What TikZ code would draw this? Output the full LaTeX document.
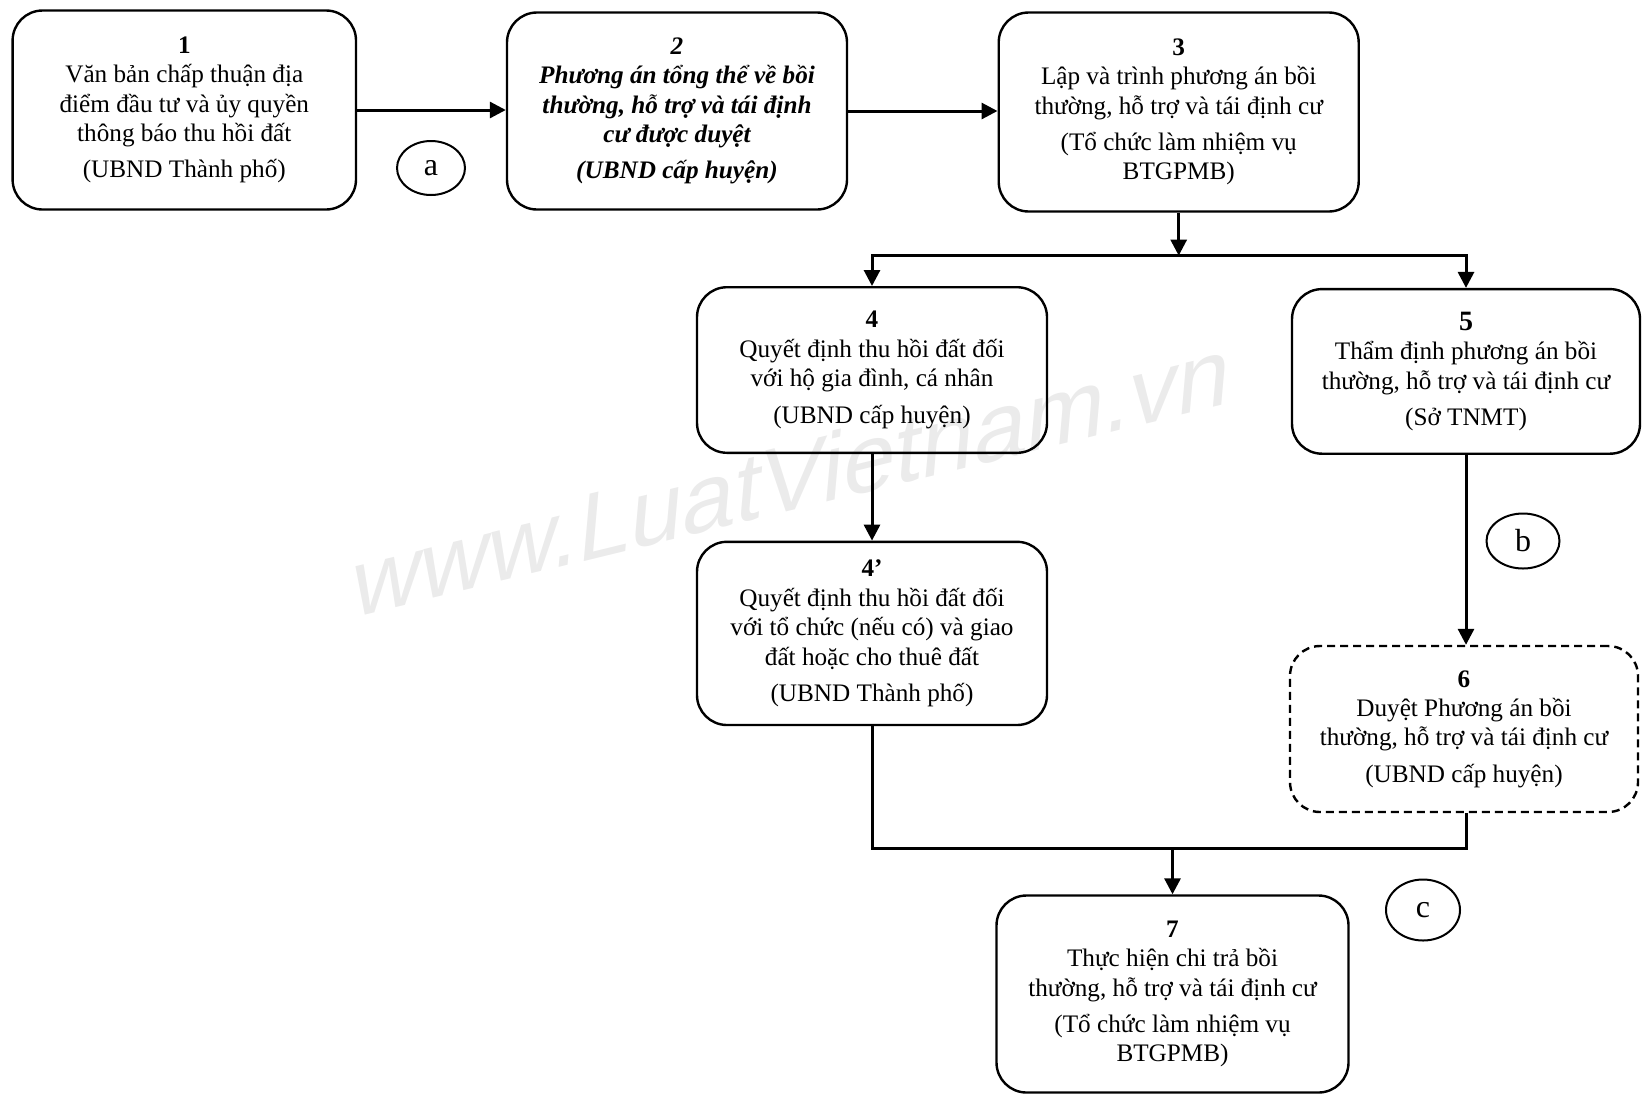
\documentclass[tikz,border=0pt]{standalone}
\usepackage{fontspec}
\setmainfont{Liberation Serif}
\newfontfamily\marksans{Liberation Sans}
\usetikzlibrary{arrows.meta,shapes.geometric}
\begin{document}
\begin{tikzpicture}[x=0.5pt,y=-0.5pt,
  stepbox/.style={draw, line width=1.2pt, rounded corners=15pt, align=center,
    inner sep=0pt, font=\fontsize{12.6pt}{14.7pt}\selectfont},
  flow/.style={line width=1.5pt, -{Triangle[length=8pt,width=8pt]}},
  link/.style={line width=1.5pt},
  tag/.style={draw, ellipse, line width=1pt, inner sep=0pt,
    font=\fontsize{16pt}{16pt}\selectfont}]
\useasboundingbox (0,0) rectangle (1643,1099);

% background watermark
\begin{scope}[shift={(793,476)}, yslant=0.244, xslant=0.09, xscale=0.98]
  \node[transform shape, text=black!8, inner sep=0pt,
        font=\marksans\fontsize{48pt}{48pt}\selectfont] (wm) at (0,0) {www.LuatVietnam.vn};
\end{scope}

% steps
\node[stepbox, minimum width=171.7pt, minimum height=99.5pt] (s1) at (184.3,110)
  {\textbf{1}\\ Văn bản chấp thuận địa\\ điểm đầu tư và ủy quyền\\ thông báo thu hồi đất\\[3.5pt] (UBND Thành phố)};
\node[stepbox, minimum width=170pt, minimum height=98.5pt,
      font=\fontsize{12.6pt}{14.7pt}\selectfont\bfseries\itshape] (s2) at (677,111)
  {2\\ Phương án tổng thể về bồi\\ thường, hỗ trợ và tái định\\ cư được duyệt\\[3.5pt] (UBND cấp huyện)};
\node[stepbox, minimum width=180pt, minimum height=99.5pt] (s3) at (1178.7,112)
  {\textbf{3}\\ Lập và trình phương án bồi\\ thường, hỗ trợ và tái định cư\\[3.5pt] (Tổ chức làm nhiệm vụ\\ BTGPMB)};
\node[stepbox, minimum width=175pt, minimum height=82.8pt] (s4) at (872,370)
  {\textbf{4}\\ Quyết định thu hồi đất đối\\ với hộ gia đình, cá nhân\\[3.5pt] (UBND cấp huyện)};
\node[stepbox, minimum width=174pt, minimum height=82.3pt] (s5) at (1466,371.4)
  {{\fontsize{14pt}{14pt}\selectfont\textbf{5}}\\ Thẩm định phương án bồi\\ thường, hỗ trợ và tái định cư\\[3.5pt] (Sở TNMT)};
\node[stepbox, minimum width=175pt, minimum height=91.6pt] (s4p) at (872,633.4)
  {\textbf{4’}\\ Quyết định thu hồi đất đối\\ với tổ chức (nếu có) và giao\\ đất hoặc cho thuê đất\\[3.5pt] (UBND Thành phố)};
\node[stepbox, dashed, dash pattern=on 4pt off 2.5pt, minimum width=174pt, minimum height=83pt] (s6) at (1464,729)
  {\textbf{6}\\ Duyệt Phương án bồi\\ thường, hỗ trợ và tái định cư\\[3.5pt] (UBND cấp huyện)};
\node[stepbox, minimum width=176pt, minimum height=98.5pt] (s7) at (1172.5,994)
  {\textbf{7}\\ Thực hiện chi trả bồi\\ thường, hỗ trợ và tái định cư\\[3.5pt] (Tổ chức làm nhiệm vụ\\ BTGPMB)};

% stage markers
\node[tag, minimum width=34pt, minimum height=27pt] (ta) at (431,168) {a};
\node[tag, minimum width=36.5pt, minimum height=27.5pt] (tb) at (1523,541) {b};
\node[tag, minimum width=37pt, minimum height=30.5pt] (tc) at (1423,910) {c};

% connectors
\coordinate (fork) at (0,255.6);
\coordinate (merge) at (0,848.7);
\draw[flow] (s1.east) -- (s1.east -| s2.west);
\draw[flow] (s2.east) -- (s2.east -| s3.west);
\draw[flow] (s3.south) -- (s3.south |- fork);
\draw[flow] (s3.south |- fork) -| (s4.north);
\draw[flow] (s3.south |- fork) -| (s5.north);
\draw[flow] (s4.south) -- (s4p.north);
\draw[flow] (s5.south) -- (s5.south |- s6.north);
\draw[link] (s4p.south) |- (s5.south |- merge) -- (s5.south |- s6.south);
\draw[flow] (s7.north |- merge) -- (s7.north);
\end{tikzpicture}
\end{document}
